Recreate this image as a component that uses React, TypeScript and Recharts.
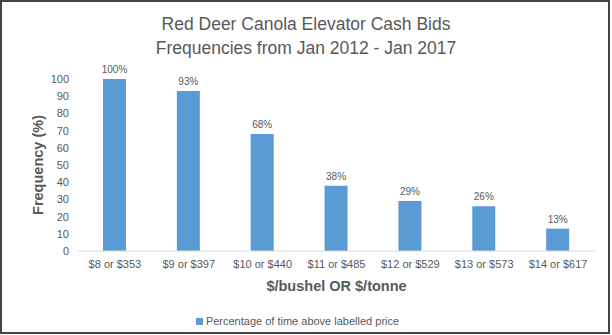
import React from 'react';
import { BarChart, Bar, XAxis, YAxis, Legend, LabelList } from 'recharts';

const categories = ['$8 or $353', '$9 or $397', '$10 or $440', '$11 or $485', '$12 or $529', '$13 or $573', '$14 or $617'];
const frequencies = [100, 93, 68, 38, 29, 26, 13];
const yTicks = [0, 10, 20, 30, 40, 50, 60, 70, 80, 90, 100];

const seriesName = 'Percentage of time above labelled price';
const chartTitle = ['Red Deer Canola Elevator Cash Bids', 'Frequencies from Jan 2012 - Jan 2017'];

const data = categories.map((c, i) => ({ name: c, value: frequencies[i] }));

const FONT = 'Arial, "Liberation Sans", sans-serif';
const TEXT = '#595959';
const BLUE = '#5B9BD5';

function LegendContent() {
  return (
    <div style={{ display: 'flex', justifyContent: 'center', alignItems: 'center', height: 30, paddingTop: 2, boxSizing: 'border-box', fontFamily: FONT, fontSize: 11, color: TEXT }}>
      <span style={{ display: 'inline-block', width: 7, height: 7, background: BLUE, marginRight: 3 }} />
      <span>{seriesName}</span>
    </div>
  );
}

export default function App() {
  return (
    <div style={{ position: 'absolute', left: 0, top: 0, width: 612, height: 335, background: '#fff', fontFamily: FONT }}>
      <div style={{ position: 'absolute', left: 0, top: 13, width: 612, textAlign: 'center', color: TEXT, fontSize: 17.5, lineHeight: '23.5px' }}>
        {chartTitle.map((t) => <div key={t}>{t}</div>)}
      </div>
      <BarChart width={612} height={335} data={data} margin={{ top: 79, right: 17, left: 0, bottom: 0 }}>
        <XAxis
          dataKey="name"
          height={54}
          tickLine={false}
          tickSize={0}
          tickMargin={9}
          axisLine={{ stroke: '#D9D9D9' }}
          tick={{ fill: TEXT, fontSize: 11, fontFamily: FONT }}
          interval={0}
          label={{
            content: ({ viewBox }: any) => (
              <text x={viewBox.x + viewBox.width / 2} y={viewBox.y + 36} textAnchor="middle" dominantBaseline="middle" fill={TEXT} fontSize={14.5} fontWeight="bold" fontFamily={FONT}>
                $/bushel OR $/tonne
              </text>
            ),
          }}
        />
        <YAxis
          width={78}
          domain={[0, 100]}
          ticks={yTicks}
          interval={0}
          axisLine={false}
          tickLine={false}
          tickSize={0}
          tickMargin={9}
          tick={{ fill: TEXT, fontSize: 11, fontFamily: FONT }}
          label={{
            content: ({ viewBox }: any) => {
              const x = viewBox.x + 39;
              const y = viewBox.y + viewBox.height / 2;
              return (
                <text x={x} y={y} transform={`rotate(-90 ${x} ${y})`} textAnchor="middle" dominantBaseline="middle" fill={TEXT} fontSize={14.5} fontWeight="bold" fontFamily={FONT}>
                  Frequency (%)
                </text>
              );
            },
          }}
        />
        <Legend verticalAlign="bottom" height={30} content={<LegendContent />} />
        <Bar dataKey="value" name={seriesName} fill={BLUE} barSize={23} isAnimationActive={false}>
          <LabelList dataKey="value" position="top" offset={6} fill={TEXT} fontSize={10} fontFamily={FONT} formatter={(v: any) => `${v}%`} />
        </Bar>
      </BarChart>
      <div style={{ position: 'absolute', left: 0, top: 0, width: 610, height: 334, boxSizing: 'border-box', border: '2px solid #444', pointerEvents: 'none' }} />
    </div>
  );
}
